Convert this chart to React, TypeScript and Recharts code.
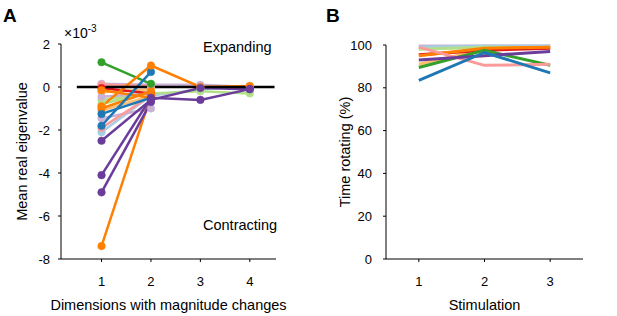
import React from "react";
import { LineChart, Line, XAxis, YAxis, ReferenceLine } from "recharts";

const FONT = "'Liberation Sans', Arial, Helvetica, sans-serif";

const LB = "#a6cee3", B = "#1f78b4", LG = "#b2df8a", G = "#33a02c", P = "#fb9a99";
const R = "#e31a1c", LO = "#fdbf6f", O = "#ff7f00", LV = "#cab2d6", PU = "#6a3d9a";

// Panel A: mean real eigenvalue (×10^-3) at dimensions 1..4 (null = not present)
const dimensions = [1, 2, 3, 4];
const eigenSeries: { color: string; values: (number | null)[] }[] = [
  { color: LB, values: [-2.1, -0.4, -0.1, 0.05] },
  { color: LG, values: [-0.6, -0.3, -0.2, -0.3] },
  { color: LG, values: [-0.8, -0.2, null, null] },
  { color: LO, values: [-0.25, -0.1, null, null] },
  { color: LO, values: [-1.1, -0.4, null, null] },
  { color: LV, values: [0.15, 0.1, 0.1, 0.0] },
  { color: LV, values: [-0.45, -0.3, null, null] },
  { color: LV, values: [-1.45, -1.0, null, null] },
  { color: P, values: [0.1, 0.05, null, null] },
  { color: P, values: [-1.9, -0.4, null, null] },
  { color: R, values: [-0.05, -0.3, null, null] },
  { color: O, values: [-0.15, -0.5, null, null] },
  { color: O, values: [-1.0, -0.2, null, null] },
  { color: B, values: [-1.25, -0.5, null, null] },
  { color: G, values: [1.15, 0.15, null, null] },
  { color: B, values: [-1.8, 0.7, null, null] },
  { color: O, values: [-0.9, 1.0, 0.0, 0.05] },
  { color: O, values: [-7.4, -0.4, null, null] },
  { color: PU, values: [-4.9, -0.7, null, null] },
  { color: PU, values: [-4.1, -0.5, -0.6, -0.1] },
  { color: PU, values: [-2.5, -0.6, -0.05, -0.1] },
];
const eigenTicks = [-8, -6, -4, -2, 0, 2];

// Panel B: time rotating (%) at stimulation 1..3
const stimulations = [1, 2, 3];
const rotSeries: { color: string; values: number[] }[] = [
  { color: LV, values: [99.5, 99.5, 99.5] },
  { color: LB, values: [99, 99.5, 99.5] },
  { color: LG, values: [98, 99, 98.5] },
  { color: LO, values: [91, 98, 99] },
  { color: R, values: [95.5, 97.5, 98.5] },
  { color: O, values: [95, 98.5, 99] },
  { color: G, values: [89.5, 97.5, 90.5] },
  { color: P, values: [99, 90.5, 91] },
  { color: PU, values: [93, 95, 97] },
  { color: B, values: [83.5, 96.5, 87] },
];
const rotTicks = [0, 20, 40, 60, 80, 100];

const tickStyle = { fill: "#000", fontSize: 13, fontFamily: FONT };
const axisLine = { stroke: "#000", strokeWidth: 1 };

export default function App() {
  return (
    <div style={{ position: "absolute", left: 0, top: 0, width: 617, height: 316, background: "#fff" }}>
      <div style={{ position: "absolute", left: 0, top: 0 }}>
        <LineChart width={300} height={316} margin={{ top: 44, right: 24, bottom: 27, left: 0 }}>
          <XAxis
            type="number"
            dataKey="x"
            domain={[0.18, 4.53]}
            ticks={dimensions}
            allowDuplicatedCategory={false}
            tick={tickStyle}
            tickSize={3}
            tickMargin={15}
            axisLine={axisLine}
            tickLine={axisLine}
            height={30}
          />
          <YAxis
            type="number"
            domain={[-8, 2]}
            ticks={eigenTicks}
            tick={tickStyle}
            tickSize={3}
            tickMargin={8}
            axisLine={axisLine}
            tickLine={axisLine}
            width={61}
          />
          {eigenSeries.map((s, i) => (
            <Line
              key={i}
              data={s.values
                .map((v, j) => ({ x: dimensions[j], y: v }))
                .filter((d) => d.y !== null)}
              dataKey="y"
              type="linear"
              stroke={s.color}
              strokeWidth={2.5}
              dot={{ r: 3.8, fill: s.color, stroke: s.color, strokeWidth: 0.5 }}
              isAnimationActive={false}
            />
          ))}
          <ReferenceLine
            segment={[{ x: 0.5, y: 0 }, { x: 4.5, y: 0 }]}
            stroke="#000"
            strokeWidth={2.5}
            ifOverflow="visible"
          />
        </LineChart>
      </div>
      <div style={{ position: "absolute", left: 310, top: 0 }}>
        <LineChart width={307} height={316} margin={{ top: 45, right: 34, bottom: 27, left: 0 }}>
          <XAxis
            type="number"
            dataKey="x"
            domain={[0.5, 3.5]}
            ticks={stimulations}
            allowDuplicatedCategory={false}
            tick={tickStyle}
            tickSize={3}
            tickMargin={15}
            axisLine={axisLine}
            tickLine={axisLine}
            height={30}
          />
          <YAxis
            type="number"
            domain={[0, 100]}
            ticks={rotTicks}
            tick={tickStyle}
            tickSize={3}
            tickMargin={11}
            axisLine={axisLine}
            tickLine={axisLine}
            width={76}
          />
          {rotSeries.map((s, i) => (
            <Line
              key={i}
              data={s.values.map((v, j) => ({ x: stimulations[j], y: v }))}
              dataKey="y"
              type="linear"
              stroke={s.color}
              strokeWidth={3}
              dot={false}
              isAnimationActive={false}
            />
          ))}
        </LineChart>
      </div>
      <svg
        width={617}
        height={316}
        style={{ position: "absolute", left: 0, top: 0, pointerEvents: "none" }}
        fontFamily={FONT}
      >
        <text x={3} y={22} fontSize={19} fontWeight="bold">A</text>
        <text x={326} y={22} fontSize={19} fontWeight="bold">B</text>
        <text x={64} y={38} fontSize={14}>
          ×10<tspan dy={-6} fontSize={10}>-3</tspan>
        </text>
        <text x={203} y={52} fontSize={14.5}>Expanding</text>
        <text x={203} y={230} fontSize={14.5}>Contracting</text>
        <text x={168.5} y={310} fontSize={14.5} textAnchor="middle">Dimensions with magnitude changes</text>
        <text x={484.5} y={310} fontSize={14.5} textAnchor="middle">Stimulation</text>
        <text x={27} y={151.5} fontSize={14.5} textAnchor="middle" transform="rotate(-90 27 151.5)">Mean real eigenvalue</text>
        <text x={350} y={152} fontSize={14.5} textAnchor="middle" transform="rotate(-90 350 152)">Time rotating (%)</text>
      </svg>
    </div>
  );
}
